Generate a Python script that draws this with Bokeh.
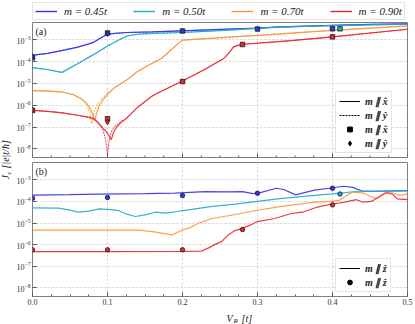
from bokeh.plotting import figure
from bokeh.models import (Range1d, Legend, LegendItem, Label, FixedTicker,
                          SingleIntervalTicker, LogTickFormatter, PrintfTickFormatter)
from bokeh.layouts import row, column
from bokeh.embed import file_html
from bokeh.resources import INLINE
from math import pi

NAN = float("nan")

# ---------------- data ----------------
m_labels = ["m = 0.45t", "m = 0.50t", "m = 0.70t", "m = 0.90t"]
colors = ["#3232e6", "#22a9c9", "#f7963c", "#e8262e"]

# panel (a): J_c vs V_R, m || x (solid) and m || y (dashed)
a_blue_x_V = [0, .02, .04, .06, .075, .082, .09, .1, .11, .126, .16, .2, .25, .3, .33, .4, .45, .5]
a_blue_x_J = [2.0e-4, 2.4e-4, 3.31e-4, 4.68e-4, 6.61e-4, 7.94e-4, 1.2e-3, 1.82e-3, 2.0e-3, 2.19e-3,
              2.34e-3, 2.63e-3, 3.02e-3, 3.47e-3, 3.98e-3, 4.68e-3, 5.13e-3, 5.5e-3]
a_blue_y_V = [0, .02, .04, .06, .075, .082, .09, .1, .11, .126, .16, .2, .25, .3, .33, .4, .45, .5]
a_blue_y_J = [1.95e-4, 2.4e-4, 3.24e-4, 4.57e-4, 6.46e-4, 7.76e-4, 1.15e-3, 1.78e-3, 2.0e-3, 2.19e-3,
              2.34e-3, 2.63e-3, 3.02e-3, 3.47e-3, 3.98e-3, 4.68e-3, 5.13e-3, 5.5e-3]

a_cyan_x_V = [0, .02, .039, .06, .08, .1, .115, .126, .14, .16, .2, .25, .3, .33, .4, .5]
a_cyan_x_J = [5.37e-5, 4.37e-5, 3.24e-5, 8.13e-5, 2.0e-4, 5.25e-4, 1.0e-3, 1.51e-3, 1.82e-3, 2.0e-3,
              2.19e-3, 2.69e-3, 3.39e-3, 3.89e-3, 4.57e-3, 5.25e-3]
a_cyan_y_V = [0, .02, .04, .06, .08, .1, .115, .126, .14, .16, .2, .25, .3, .33, .4, .5]
a_cyan_y_J = [5.25e-5, 4.27e-5, 3.16e-5, 7.94e-5, 1.95e-4, 5.13e-4, 1.0e-3, 1.51e-3, 1.82e-3, 2.0e-3,
              2.19e-3, 2.69e-3, 3.39e-3, 3.89e-3, 4.57e-3, 5.25e-3]

a_orange_x_V = [0, .02, .04, .055, .065, .072, .077, .080, .083, .086, .089, .093, .1, .11, .126,
                .14, .159, .172, .185, .194, .2, .3, .4, .5]
a_orange_x_J = [4.68e-6, 4.57e-6, 4.07e-6, 3.02e-6, 2.0e-6, 1.26e-6, 7.08e-7, 3.98e-7, 1.91e-7,
                5.01e-7, 9.55e-7, 1.58e-6, 3.16e-6, 6.61e-6, 1.48e-5, 3.55e-5, 8.32e-5, 1.41e-4,
                3.55e-4, 6.76e-4, 9.77e-4, 1.62e-3, 2.75e-3, 4.37e-3]
a_orange_y_V = [0, .02, .04, .055, .065, .072, .076, .079, .082, .086, .09, .1, .11, .126,
                .14, .159, .172, .185, .194, .2, .3, .4, .5]
a_orange_y_J = [4.68e-6, 4.47e-6, 3.98e-6, 2.95e-6, 1.91e-6, 1.12e-6, 5.01e-7, 1.41e-7, 5.01e-7,
                1.05e-6, 1.66e-6, 3.55e-6, 6.92e-6, 1.48e-5, 3.55e-5, 8.32e-5, 1.41e-4,
                3.55e-4, 6.76e-4, 9.77e-4, 1.62e-3, 2.75e-3, 4.37e-3]

a_red_x_V = [0, .02, .04, .062, .075, .081, .088, .094, .099, .102, .105, .108, .112, .118, .126,
             .14, .159, .167, .2, .23, .255, .262, .268, .275, .281, .345, .4, .5]
a_red_x_J = [5.75e-7, 5.25e-7, 4.47e-7, 3.39e-7, 2.82e-7, 2.51e-7, 1.58e-7, 8.91e-8, 5.62e-8,
             3.98e-8, 2.63e-8, 5.62e-8, 1.0e-7, 1.58e-7, 2.63e-7, 7.94e-7, 2.57e-6, 3.63e-6,
             1.29e-5, 4.47e-5, 1.41e-4, 2.51e-4, 4.79e-4, 5.75e-4, 6.31e-4, 9.33e-4, 1.38e-3, 3.09e-3]
a_red_y_V = [0, .02, .04, .062, .075, .081, .088, .094, .097, .099, .1, .101, .103, .106, .11,
             .118, .126, .14, .159, .167, .2, .23, .255, .262, .268, .275, .281, .345, .4, .5]
a_red_y_J = [5.75e-7, 5.25e-7, 4.47e-7, 3.39e-7, 2.75e-7, 2.40e-7, 1.41e-7, 7.08e-8, 3.16e-8,
             1.12e-8, 5.01e-9, 1.12e-8, 3.55e-8, 7.08e-8, 1.12e-7, 1.78e-7, 2.75e-7, 7.94e-7,
             2.57e-6, 3.63e-6, 1.29e-5, 4.47e-5, 1.41e-4, 2.51e-4, 4.79e-4, 5.75e-4, 6.31e-4,
             9.33e-4, 1.38e-3, 3.09e-3]

# panel (a) markers: square = m || x, diamond = m || y
a_sq_V = [[0, .1, .2, .3, .4], [.41], [], [0, .1, .2, .28, .4]]
a_sq_J = [[1.51e-4, 2.09e-3, 2.57e-3, 3.16e-3, 3.24e-3], [3.24e-3], [],
          [5.75e-7, 2.40e-7, 1.23e-5, 6.17e-4, 1.38e-3]]
a_di_V = [[0, .1], [], [], [0, .1]]
a_di_J = [[1.74e-4, 1.91e-3], [], [], [6.31e-7, 1.70e-7]]

# panel (b): m || z
b_blue_V = [0, .05, .089, .15, .19, .23, .26, .28, .294, .305, .325, .335, .351, .36, .376, .398,
            .415, .427, .44, .465, .5]
b_blue_J = [1.95e-4, 2.04e-4, 2.19e-4, 2.29e-4, 2.40e-4, 2.82e-4, 2.75e-4, 2.82e-4, 2.29e-4,
            2.63e-4, 4.07e-4, 3.55e-4, 2.0e-4, 2.40e-4, 3.31e-4, 4.17e-4, 5.01e-4, 4.47e-4,
            2.95e-4, 2.95e-4, 3.16e-4]
b_cyan_V = [0, .035, .05, .061, .075, .089, .105, .115, .125, .137, .15, .164, .177, .19, .208,
            .24, .27, .3, .33, .365, .4, .434, .46, .5]
b_cyan_J = [5.01e-5, 4.90e-5, 3.98e-5, 3.16e-5, 3.55e-5, 4.47e-5, 4.17e-5, 3.72e-5, 2.63e-5,
            2.0e-5, 2.40e-5, 3.16e-5, 2.88e-5, 3.31e-5, 4.07e-5, 5.89e-5, 7.41e-5, 1.0e-4,
            1.35e-4, 1.74e-4, 2.24e-4, 2.95e-4, 3.02e-4, 3.09e-4]
b_orange_V = [0, .1, .142, .16, .186, .2, .21, .221, .239, .265, .3, .332, .376, .398, .409, .42,
              .427, .442, .45, .459, .47, .48, .49, .5]
b_orange_J = [4.68e-6, 4.68e-6, 4.68e-6, 3.98e-6, 2.82e-6, 4.79e-6, 6.03e-6, 9.77e-6, 1.62e-5,
              2.29e-5, 3.89e-5, 5.89e-5, 9.33e-5, 1.0e-4, 1.12e-4, 2.0e-4, 2.69e-4, 2.40e-4,
              1.74e-4, 1.32e-4, 2.51e-4, 2.51e-4, 1.91e-4, 2.24e-4]
b_red_V = [0, .1, .2, .225, .235, .243, .252, .261, .27, .278, .29, .3, .323, .345, .36, .378,
           .4, .416, .432, .44, .452, .463, .472, .48, .486, .5]
b_red_J = [4.79e-7, 4.79e-7, 4.90e-7, 5.01e-7, 7.08e-7, 1.0e-6, 1.38e-6, 2.82e-6, 4.47e-6,
           5.37e-6, 7.94e-6, 1.17e-5, 1.62e-5, 2.75e-5, 3.16e-5, 5.25e-5, 7.59e-5, 9.33e-5,
           1.20e-4, 9.33e-5, 1.0e-4, 1.74e-4, 2.51e-4, 2.19e-4, 1.32e-4, 1.20e-4]

b_dot_V = [[0, .1, .2, .3, .4], [.41], [], [0, .1, .2, .28, .4]]
b_dot_J = [[1.41e-4, 1.51e-4, 1.86e-4, 2.40e-4, 4.07e-4], [2.19e-4], [],
           [5.75e-7, 5.75e-7, 5.75e-7, 5.01e-6, 6.92e-5]]

x_ticks = [0.0, 0.1, 0.2, 0.3, 0.4, 0.5]
x_minor = [0.025, 0.05, 0.075, 0.125, 0.15, 0.175, 0.225, 0.25, 0.275,
           0.325, 0.35, 0.375, 0.425, 0.45, 0.475]
y_ticks = [1e-8, 1e-7, 1e-6, 1e-5, 1e-4, 1e-3]
x_lim = (0.0, 0.5)
y_lim = (3.98e-9, 6.31e-3)

SERIF = "Liberation Serif"
GRID = "#d0d0d0"
TICK = "#555555"
TXT = "#222222"
PW = 402      # width of the panel canvases
LB = 17       # left border (y tick labels)
RB = 8        # right border
LABW = 13     # width of the strip holding the shared y label


def make_panel(height, min_top, min_bottom, with_xaxis):
    p = figure(width=PW, height=height, x_range=Range1d(*x_lim), y_range=Range1d(*y_lim),
               y_axis_type="log", output_backend="svg", toolbar_location=None,
               x_axis_location="below" if with_xaxis else None,
               min_border_left=LB, min_border_right=RB, min_border_top=min_top,
               min_border_bottom=min_bottom)
    p.outline_line_color = "#808080"
    p.outline_line_width = 1
    p.yaxis.ticker = FixedTicker(ticks=y_ticks, minor_ticks=[])
    p.yaxis.formatter = LogTickFormatter()
    axes = [p.yaxis[0]]
    if with_xaxis:
        p.xaxis.ticker = SingleIntervalTicker(interval=0.1, num_minor_ticks=4)
        p.xaxis.formatter = PrintfTickFormatter(format="%.1f")
        axes.append(p.xaxis[0])
    for ax in axes:
        ax.axis_line_color = None
        ax.major_tick_in = 4
        ax.major_tick_out = 0
        ax.minor_tick_in = 2
        ax.minor_tick_out = 0
        ax.major_tick_line_color = TICK
        ax.minor_tick_line_color = TICK
        ax.major_label_text_font = SERIF
        ax.major_label_text_font_size = "8px"
        ax.major_label_text_color = "#333333"
        ax.major_label_standoff = 2
    p.xgrid.ticker = FixedTicker(ticks=x_ticks)
    p.xgrid.grid_line_color = GRID
    p.ygrid.grid_line_color = GRID
    p.xgrid.grid_line_dash = "2 2"
    p.ygrid.grid_line_dash = "2 2"
    return p


def strip(width, height, **kw):
    f = figure(width=width, height=height, x_range=Range1d(0, 1), y_range=Range1d(0, 1),
               x_axis_location=None, y_axis_location=None, output_backend="svg",
               toolbar_location=None, **kw)
    f.grid.visible = False
    f.outline_line_color = None
    return f


def legend_box(items, loc):
    return Legend(items=items, location=loc, margin=0, padding=3, spacing=2,
                  glyph_width=21, glyph_height=12, label_height=12, label_standoff=5,
                  label_text_font=SERIF, label_text_font_style="bold italic",
                  label_text_font_size="10px", label_text_color=TXT,
                  border_line_color="#cccccc", background_fill_alpha=0.9)


# ---------------- top legend strip ----------------
legfig = strip(PW, 21, min_border_left=LB, min_border_right=RB, min_border_top=0, min_border_bottom=0)
top_items = []
for i in range(4):
    r = legfig.line([NAN], [NAN], line_color=colors[i], line_width=1.4)
    top_items.append(LegendItem(label=m_labels[i], renderers=[r]))
top_leg = Legend(items=top_items, orientation="horizontal", location=(0, 1),
                 label_text_font=SERIF, label_text_font_style="italic", label_text_font_size="11px",
                 label_text_color=TXT,
                 glyph_width=22, glyph_height=10, label_height=10, label_width=40, spacing=26,
                 label_standoff=7, padding=2, margin=0, border_line_color="#cccccc",
                 border_line_width=1)
legfig.add_layout(top_leg)

# ---------------- panel (a) ----------------
pa = make_panel(138, 1, 2, False)
a_x = [(a_blue_x_V, a_blue_x_J), (a_cyan_x_V, a_cyan_x_J), (a_orange_x_V, a_orange_x_J), (a_red_x_V, a_red_x_J)]
a_y = [(a_blue_y_V, a_blue_y_J), (a_cyan_y_V, a_cyan_y_J), (a_orange_y_V, a_orange_y_J), (a_red_y_V, a_red_y_J)]
for i in range(4):
    pa.line(a_x[i][0], a_x[i][1], line_color=colors[i], line_width=1.2, line_alpha=0.9)
    pa.line(a_y[i][0], a_y[i][1], line_color=colors[i], line_width=1.0, line_alpha=0.9, line_dash="2 1")
for i in range(4):
    if a_sq_V[i]:
        pa.scatter(a_sq_V[i], a_sq_J[i], marker="square", size=4.5, fill_color=colors[i],
                   line_color="#1a1a1a", line_width=0.8)
    if a_di_V[i]:
        pa.scatter(a_di_V[i], a_di_J[i], marker="diamond", size=5.5, fill_color=colors[i],
                   line_color="#1a1a1a", line_width=0.8)
# inward x ticks at the bottom of panel (a) (no tick labels there)
pa.scatter(x_ticks, [y_lim[0]] * len(x_ticks), marker="dash", angle=pi / 2, size=8,
           line_color=TICK, line_width=1)
pa.scatter(x_minor, [y_lim[0]] * len(x_minor), marker="dash", angle=pi / 2, size=4,
           line_color=TICK, line_width=1)

d1 = pa.line([NAN], [NAN], line_color="black", line_width=1.0)
d2 = pa.line([NAN], [NAN], line_color="black", line_width=1.0, line_dash="2 1")
d3 = pa.scatter([NAN], [NAN], marker="square", size=4, fill_color="black", line_color="black")
d4 = pa.scatter([NAN], [NAN], marker="diamond", size=5, fill_color="black", line_color="black")
pa.add_layout(legend_box([LegendItem(label="m \u2225 x\u0302", renderers=[d1]),
                          LegendItem(label="m \u2225 y\u0302", renderers=[d2]),
                          LegendItem(label="m \u2225 x\u0302", renderers=[d3]),
                          LegendItem(label="m \u2225 y\u0302", renderers=[d4])], (303, 4)))
pa.add_layout(Label(x=0, y=y_lim[1], x_offset=3, y_offset=-3, text="(a)", text_font=SERIF,
                    text_font_size="10px", text_baseline="top", text_color=TXT))

# ---------------- panel (b) ----------------
pb = make_panel(148, 3, 11, True)
b_lines = [(b_blue_V, b_blue_J), (b_cyan_V, b_cyan_J), (b_orange_V, b_orange_J), (b_red_V, b_red_J)]
for i in range(4):
    pb.line(b_lines[i][0], b_lines[i][1], line_color=colors[i], line_width=1.2, line_alpha=0.9)
for i in range(4):
    if b_dot_V[i]:
        pb.scatter(b_dot_V[i], b_dot_J[i], marker="circle", size=4.5, fill_color=colors[i],
                   line_color="#1a1a1a", line_width=0.8)
e1 = pb.line([NAN], [NAN], line_color="black", line_width=1.0)
e2 = pb.scatter([NAN], [NAN], marker="circle", size=4, fill_color="black", line_color="black")
pb.add_layout(legend_box([LegendItem(label="m \u2225 z\u0302", renderers=[e1]),
                          LegendItem(label="m \u2225 z\u0302", renderers=[e2])], (303, 4)))
pb.add_layout(Label(x=0, y=y_lim[1], x_offset=3, y_offset=-3, text="(b)", text_font=SERIF,
                    text_font_size="10px", text_baseline="top", text_color=TXT))

# ---------------- x axis label strip:  V_R [t] ----------------
xlab = strip(PW, 17, min_border=0)
xlab.add_layout(Label(x=194, y=6, x_units="screen", y_units="screen", text="V", text_font=SERIF,
                      text_font_style="italic", text_font_size="10px", text_baseline="alphabetic",
                      text_color=TXT))
xlab.add_layout(Label(x=201, y=4, x_units="screen", y_units="screen", text="R", text_font=SERIF,
                      text_font_style="italic", text_font_size="7px", text_baseline="alphabetic",
                      text_color=TXT))
xlab.add_layout(Label(x=209, y=6, x_units="screen", y_units="screen", text="[t]", text_font=SERIF,
                      text_font_style="italic", text_font_size="10px", text_baseline="alphabetic",
                      text_color=TXT))

# ---------------- shared y label strip ----------------
lab = strip(LABW, 324, min_border=0)
y0 = 145
lab.add_layout(Label(x=10.5, y=y0, x_units="screen", y_units="screen", text="J", angle=pi / 2,
                     text_font=SERIF, text_font_style="italic", text_font_size="10px", text_color=TXT))
lab.add_layout(Label(x=12.5, y=y0 + 5, x_units="screen", y_units="screen", text="c", angle=pi / 2,
                     text_font=SERIF, text_font_style="italic", text_font_size="7px", text_color=TXT))
lab.add_layout(Label(x=10.5, y=y0 + 11, x_units="screen", y_units="screen", text="[|e|t/\u0127]",
                     angle=pi / 2, text_font=SERIF, text_font_style="italic", text_font_size="10px",
                     text_color=TXT))

layout = row(lab, column(legfig, pa, pb, xlab))
open("out.html", "w").write(file_html(layout, INLINE))
